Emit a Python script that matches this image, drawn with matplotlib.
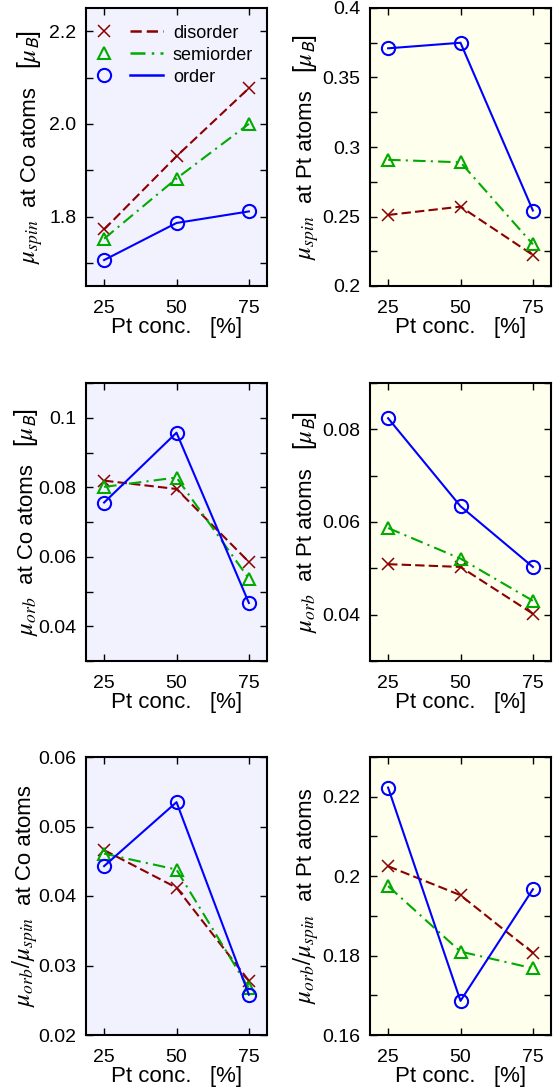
import numpy as np
import matplotlib
matplotlib.use('agg')
import matplotlib.pyplot as plt
from matplotlib.ticker import MultipleLocator, FormatStrFormatter
from matplotlib.lines import Line2D
from matplotlib.legend_handler import HandlerBase

plt.rcParams['font.family'] = ['Liberation Sans', 'DejaVu Sans']
plt.rcParams['mathtext.fontset'] = 'stix'

conc = [25, 50, 75]

# spin moment (mu_B)
spin_co_dis = [1.772, 1.930, 2.077]
spin_co_semi = [1.752, 1.882, 2.000]
spin_co_ord = [1.706, 1.786, 1.811]
spin_pt_dis = [0.2511, 0.2571, 0.2223]
spin_pt_semi = [0.2908, 0.2890, 0.2300]
spin_pt_ord = [0.3710, 0.3750, 0.2543]

# orbital moment (mu_B)
orb_co_dis = [0.0819, 0.0795, 0.0585]
orb_co_semi = [0.0801, 0.0828, 0.0537]
orb_co_ord = [0.0756, 0.0957, 0.0467]
orb_pt_dis = [0.0509, 0.0503, 0.0402]
orb_pt_semi = [0.0587, 0.0521, 0.0430]
orb_pt_ord = [0.0824, 0.0634, 0.0503]

# orb/spin ratio
rat_co_dis = [0.0466, 0.0412, 0.0278]
rat_co_semi = [0.0461, 0.0438, 0.0267]
rat_co_ord = [0.0443, 0.0535, 0.0258]
rat_pt_dis = [0.2025, 0.1952, 0.1807]
rat_pt_semi = [0.1975, 0.1810, 0.1768]
rat_pt_ord = [0.2223, 0.1686, 0.1967]

c_dis = '#8b0000'
c_semi = '#00aa00'
c_ord = '#0000ff'
bg_co = '#f2f2ff'
bg_pt = '#ffffee'

W, H = 560, 1089
fig = plt.figure(figsize=(W / 100, H / 100), dpi=100)

lefts = [86 / W, 370 / W]
w = 181 / W
bottoms = [1 - 286 / H, 1 - 661 / H, 1 - 1035 / H]
h = 278 / H

mu_B = r'[$\mu_{\mathsf{B}}$]'
panels = [
    # data, ylim, major, minor, fmt, label parts, bg
    ((spin_co_dis, spin_co_semi, spin_co_ord), (1.65, 2.25), 0.2, 0.1, '%.1f',
     [r'$\mu_{spin}$', 'at Co atoms', mu_B], bg_co),
    ((spin_pt_dis, spin_pt_semi, spin_pt_ord), (0.2, 0.4), 0.05, 0.025, '%g',
     [r'$\mu_{spin}$', 'at Pt atoms', mu_B], bg_pt),
    ((orb_co_dis, orb_co_semi, orb_co_ord), (0.03, 0.11), 0.02, 0.01, '%g',
     [r'$\mu_{orb}$', 'at Co atoms', mu_B], bg_co),
    ((orb_pt_dis, orb_pt_semi, orb_pt_ord), (0.03, 0.09), 0.02, 0.01, '%g',
     [r'$\mu_{orb}$', 'at Pt atoms', mu_B], bg_pt),
    ((rat_co_dis, rat_co_semi, rat_co_ord), (0.02, 0.06), 0.01, 0.01, '%g',
     [r'$\mu_{orb}/\mu_{spin}$', 'at Co atoms'], bg_co),
    ((rat_pt_dis, rat_pt_semi, rat_pt_ord), (0.16, 0.23), 0.02, 0.01, '%g',
     [r'$\mu_{orb}/\mu_{spin}$', 'at Pt atoms'], bg_pt),
]
label_x = [36, 312, 33, 312, 31, 312]

styles = [
    dict(color=c_dis, ls=(0, (4.5, 2)), marker='x', ms=9, mew=1.1),
    dict(color=c_semi, ls=(0, (6, 2.5, 1, 2.5)), marker='^', ms=9, mew=1.5,
         mfc='none'),
    dict(color=c_ord, ls='-', marker='o', ms=9.5, mew=1.5, mfc='none'),
]
names = ['disorder', 'semiorder', 'order']


class MarkLine(HandlerBase):
    # gnuplot style key: symbol first, then a short piece of line
    def create_artists(self, legend, orig, xdescent, ydescent, width, height,
                       fontsize, trans):
        st = orig
        y = height / 2 - ydescent
        m = Line2D([-xdescent + 0.09 * width], [y], color=st['color'],
                   marker=st['marker'], ms=st['ms'], mew=st['mew'],
                   mfc=st.get('mfc', st['color']), ls='none', transform=trans)
        l = Line2D([-xdescent + 0.49 * width, -xdescent + width], [y, y],
                   color=st['color'], ls=st['ls'], lw=1.8, transform=trans)
        return [m, l]


class Key:
    def __init__(self, st):
        self.st = st

    def __getitem__(self, k):
        return self.st[k]

    def get(self, k, d=None):
        return self.st.get(k, d)

    def get_label(self):
        return ''


label_texts = []
for i, (data, ylim, maj, mnr, fmt, parts, bg) in enumerate(panels):
    ax = fig.add_axes([lefts[i % 2], bottoms[i // 2], w, h])
    ax.set_facecolor(bg)
    for vals, st in zip(data, styles):
        ax.plot(conc, vals, lw=1.5, **st)
    ax.set_xlim(18.75, 81.25)
    ax.set_ylim(*ylim)
    ax.set_xticks(conc)
    ax.yaxis.set_major_locator(MultipleLocator(maj))
    ax.yaxis.set_minor_locator(MultipleLocator(mnr))
    ax.yaxis.set_major_formatter(FormatStrFormatter(fmt))
    ax.tick_params(which='both', direction='in', top=True, right=True,
                   length=5, width=1, labelsize=14, pad=7)
    ax.tick_params(axis='x', pad=10)
    for s in ax.spines.values():
        s.set_linewidth(1.5)
    ax.set_xlabel('Pt conc.   [%]', fontsize=16, labelpad=0)

    # y label built from pieces: big serif symbol, sans text, unit
    sizes = [18, 16, 18]
    txts = []
    for j, p in enumerate(parts):
        t = fig.text(label_x[i] / W, 0.5, p, rotation=90, rotation_mode='anchor',
                     ha='left', va='baseline', fontsize=sizes[j])
        txts.append(t)
    label_texts.append((ax, txts))

    if i == 0:
        keys = [Key(st) for st in styles]
        ax.legend(keys, names, handler_map={Key: MarkLine()},
                  loc='upper left', frameon=False, fontsize=13, handlelength=3.6,
                  handletextpad=0.55, labelspacing=0.28, borderpad=0,
                  borderaxespad=0, bbox_to_anchor=(0.066, 0.94))

fig.canvas.draw()
r = fig.canvas.get_renderer()
gaps = [12, 18]
for ax, txts in label_texts:
    bb = ax.get_window_extent(r)
    ext = [t.get_window_extent(r).height for t in txts]
    total = sum(ext) + sum(gaps[:len(txts) - 1])
    y = (bb.y0 + bb.y1) / 2 - total / 2
    for k, t in enumerate(txts):
        x = t.get_position()[0]
        t.set_position((x, y / H))
        y += ext[k] + (gaps[k] if k < len(gaps) else 0)

fig.savefig('out.png', dpi=100)
